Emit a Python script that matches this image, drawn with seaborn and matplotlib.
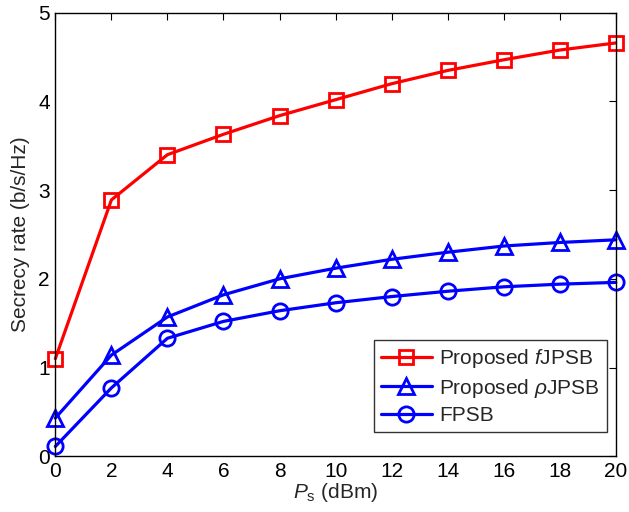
import seaborn as sns
import pandas as pd
import numpy as np
import matplotlib.pyplot as plt

# transmit power (dBm)
ps = [0, 2, 4, 6, 8, 10, 12, 14, 16, 18, 20]

# secrecy rates
rate_f = [1.10, 2.89, 3.40, 3.63, 3.84, 4.02, 4.20, 4.35, 4.47, 4.58, 4.66]
rate_rho = [0.43, 1.14, 1.57, 1.82, 2.00, 2.12, 2.22, 2.30, 2.37, 2.41, 2.44]
rate_fpsb = [0.11, 0.77, 1.33, 1.52, 1.64, 1.73, 1.80, 1.86, 1.91, 1.94, 1.96]

labels = ['Proposed $f$JPSB', r'Proposed $\rho$JPSB', 'FPSB']

sns.set_style('white')
plt.rcParams['font.family'] = ['Liberation Sans', 'DejaVu Sans']
plt.rcParams['mathtext.fontset'] = 'custom'
plt.rcParams['mathtext.rm'] = 'Liberation Sans'
plt.rcParams['mathtext.it'] = 'Liberation Sans:italic'

fig = plt.figure(figsize=(6.29, 5.12), dpi=100)
ax = fig.add_axes([0.088, 0.109, 0.891, 0.866])

series = [(rate_f, 'red', 's', 10), (rate_rho, 'blue', '^', 11), (rate_fpsb, 'blue', 'o', 11)]
for (vals, col, mk, ms), lab in zip(series, labels):
    df = pd.DataFrame({'Ps': ps, 'rate': vals})
    sns.lineplot(data=df, x='Ps', y='rate', ax=ax, color=col, marker=mk,
                 markersize=ms, mfc='none', mec=col, mew=2,
                 linewidth=2.3, label=lab, clip_on=False)

ax.set_xlim(0, 20)
ax.set_ylim(0, 5)
ax.set_xticks(np.arange(0, 21, 2))
ax.set_yticks(np.arange(0, 6, 1))
ax.tick_params(direction='in', length=5, width=0.8, top=True, right=True,
               labelsize=15, colors='black', pad=4)
for s in ax.spines.values():
    s.set_color('black')
    s.set_linewidth(1.0)

ax.set_xlabel(r'$P_{\rm s}$ (dBm)', fontsize=15, labelpad=0)
ax.set_ylabel('Secrecy rate (b/s/Hz)', fontsize=15, labelpad=6)

leg = ax.legend(loc='lower right', bbox_to_anchor=(0.984, 0.054), fontsize=15,
                frameon=True, fancybox=False, edgecolor='black', borderpad=0.35,
                handlelength=2.45, labelspacing=0.3, handletextpad=0.35,
                borderaxespad=0)
leg.get_frame().set_linewidth(1.0)

plt.savefig('out.png', dpi=100)
